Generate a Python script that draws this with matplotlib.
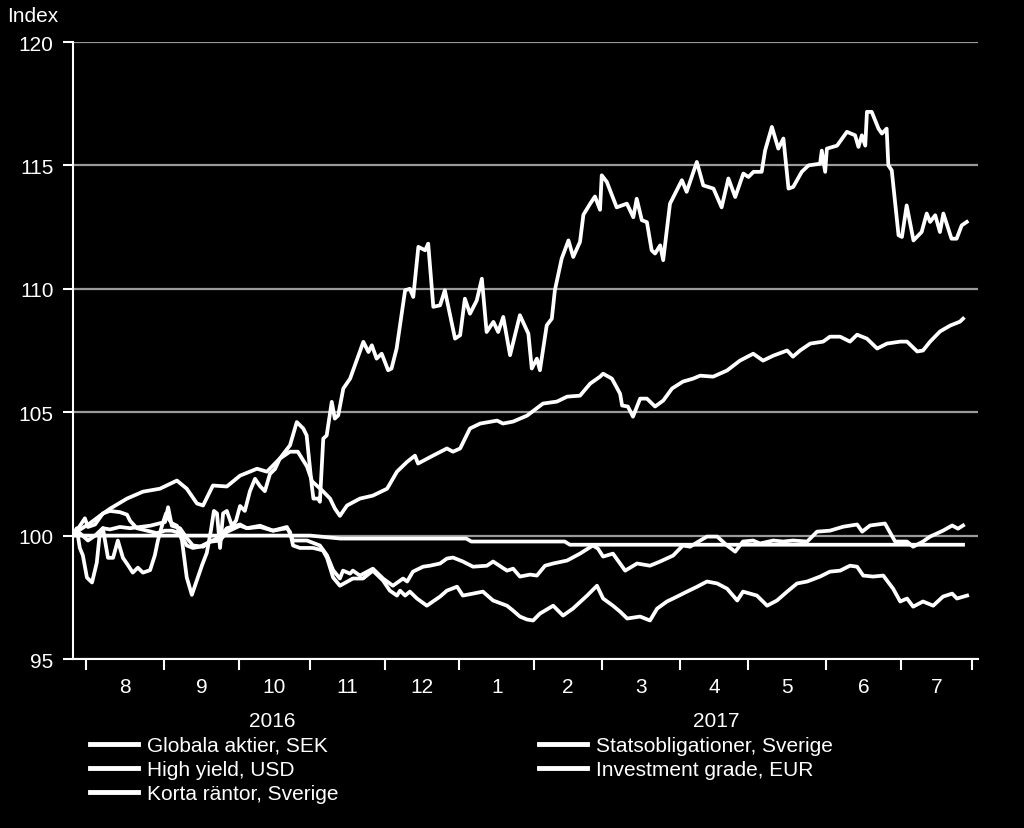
import matplotlib
matplotlib.use('Agg')
import matplotlib.pyplot as plt

plt.rcParams['font.family'] = ['Liberation Sans', 'DejaVu Sans']

# x = trading days counted from 1 Aug 2016, y = index (start = 100)
globala_x = [-3.8, -2.7, -1.8, -0.9, 0.3, 1.8, 3.2, 4.1, 5.0, 6.5, 8.0, 9.4, 10.9, 12.4, 13.8,
             15.3, 16.8, 18.9, 20.3, 21.2, 22.4, 23.6, 24.2, 25.3, 26.8, 28.3, 29.7, 31.2, 32.7,
             34.2, 35.6, 36.8, 37.7, 38.6, 39.5, 40.4, 41.5, 43.0, 44.2, 45.4, 46.8, 48.3, 49.8,
             51.3, 52.7, 54.2, 55.7, 57.1, 60.1, 62.1, 64.0, 65.0, 66.5, 67.0, 68.4, 68.9, 69.9,
             70.9, 72.4, 73.3, 74.3, 75.8, 77.8, 81.7, 83.2, 84.2, 85.6, 87.1, 89.0, 90.0, 91.5,
             94.0, 95.4, 96.4, 97.9, 99.9, 100.8, 102.3, 104.3, 105.7, 108.7, 110.2, 111.6, 113.1,
             115.1, 116.6, 118.0, 120.0, 121.4, 122.9, 124.9, 127.8, 130.3, 131.3, 132.8, 133.7,
             135.7, 137.2, 138.1, 140.1, 142.1, 143.5, 145.5, 146.5, 148.5, 149.9, 151.4, 151.9,
             153.4, 156.3, 159.3, 161.2, 162.2, 163.7, 165.2, 166.6, 167.6, 169.1, 170.0, 172.0,
             173.5, 175.5, 176.9, 179.9, 181.8, 184.8, 187.2, 189.2, 191.2, 193.6, 195.1, 196.6,
             199.0, 200.0, 202.0, 203.9, 205.4, 206.9, 208.3, 210.8, 212.8, 216.2, 216.7, 217.7,
             218.2, 221.2, 224.1, 226.5, 227.5, 228.5, 229.5, 230.0, 231.4, 233.4, 234.4, 235.8,
             236.3, 237.3, 239.3, 240.3, 241.7, 243.7, 246.1, 247.6, 248.6, 250.1, 251.5, 252.5,
             254.9, 256.4, 257.9, 259.4]
globala_y = [100.0, 100.3, 99.5, 99.2, 98.3, 98.1, 98.9, 100.1, 100.3, 99.1, 99.1, 99.8, 99.1, 98.8,
             98.5, 98.7, 98.5, 98.6, 99.2, 99.8, 100.4, 100.9, 100.7, 100.5, 100.4, 99.8, 98.3,
             97.6, 98.2, 98.8, 99.3, 100.2, 101.0, 100.9, 99.5, 100.9, 101.0, 100.4, 100.6, 101.2,
             101.0, 101.8, 102.3, 102.0, 101.8, 102.5, 102.7, 103.12, 103.66, 104.6, 104.34,
             104.06, 102.04, 101.5, 101.5, 101.37, 103.93, 104.06, 105.42, 104.74, 104.87, 105.96,
             106.36, 107.85, 107.44, 107.71, 107.17, 107.37, 106.7, 106.77, 107.58, 109.94, 110.0,
             109.67, 111.7, 111.56, 111.83, 109.27, 109.33, 109.94, 107.98, 108.12, 109.6, 108.99,
             109.53, 110.41, 108.25, 108.66, 108.25, 108.86, 107.31, 108.93, 108.18, 106.77,
             107.17, 106.7, 108.52, 108.79, 109.94, 111.22, 111.96, 111.29, 111.9, 113.0, 113.45,
             113.74, 113.2, 114.6, 114.33, 113.3, 113.45, 112.9, 113.65, 112.78, 112.7, 111.56,
             111.43, 111.76, 111.16, 113.45, 113.86, 114.4, 113.93, 115.14, 114.19, 114.06, 113.3,
             114.47, 113.72, 114.67, 114.53, 114.74, 114.74, 115.6, 116.56, 115.68, 116.09, 114.06,
             114.13, 114.74, 115.0, 115.07, 115.6, 114.74, 115.68, 115.8, 116.36, 116.22, 115.75,
             116.22, 115.8, 117.17, 117.17, 116.49, 116.29, 116.49, 115.0, 114.8, 112.17, 112.1,
             113.38, 111.96, 112.3, 113.05, 112.71, 112.98, 112.3, 113.05, 112.03, 112.03, 112.57,
             112.71]

highyield_x = [-3.8, -2.7, 1.2, 4.1, 7.1, 12.1, 16.8, 21.8, 26.8, 29.7, 32.7, 34.5, 37.4, 41.5,
               45.4, 50.4, 53.3, 57.1, 60.1, 62.4, 65.1, 66.6, 69.8, 71.9, 73.3, 74.8, 76.9, 80.7,
               84.5, 88.7, 91.6, 94.6, 96.9, 97.8, 102.2, 106.3, 108.1, 110.2, 113.1, 116.1, 121.1,
               122.8, 125.8, 129.9, 134.6, 138.7, 141.7, 145.5, 148.5, 151.4, 152.3, 154.9, 157.3,
               157.9, 159.6, 161.1, 163.2, 165.2, 167.6, 170.0, 172.6, 175.8, 178.8, 180.9, 184.7,
               188.8, 192.6, 196.5, 199.4, 202.4, 206.5, 208.2, 210.3, 213.3, 217.1, 219.1, 222.1,
               225.0, 227.1, 230.0, 233.0, 235.9, 239.8, 241.8, 244.8, 246.5, 248.6, 251.5, 254.5,
               257.4, 258.3]
highyield_y = [100.0, 100.16, 100.5, 100.8, 101.09, 101.5, 101.78, 101.9, 102.23, 101.9, 101.3,
               101.22, 102.03, 101.99, 102.43, 102.71, 102.59, 103.12, 103.4, 103.4, 102.8, 102.2,
               101.8, 101.5, 101.1, 100.8, 101.22, 101.5, 101.62, 101.9, 102.59, 102.99, 103.24,
               102.92, 103.24, 103.53, 103.4, 103.53, 104.34, 104.54, 104.66, 104.54, 104.62,
               104.86, 105.35, 105.43, 105.63, 105.67, 106.16, 106.44, 106.56, 106.36, 105.75,
               105.27, 105.23, 104.82, 105.55, 105.55, 105.23, 105.47, 105.96, 106.24, 106.36,
               106.48, 106.44, 106.69, 107.09, 107.37, 107.09, 107.29, 107.5, 107.25, 107.5,
               107.78, 107.86, 108.06, 108.06, 107.86, 108.14, 107.98, 107.58, 107.78, 107.86,
               107.86, 107.46, 107.5, 107.86, 108.27, 108.51, 108.67, 108.79]

korta_x = [-3.8, 66.0, 75.0, 112.0, 113.5, 141.0, 142.5, 258.3]
korta_y = [100.0, 100.0, 99.88, 99.88, 99.76, 99.76, 99.63, 99.63]

stats_x = [-3.8, -2.7, -0.3, 0.6, 2.7, 5.0, 7.1, 10.0, 12.1, 13.0, 15.0, 18.0, 20.9, 23.3, 25.3,
           27.7, 29.7, 31.5, 33.6, 36.5, 39.5, 41.5, 45.4, 47.4, 51.3, 55.1, 59.2, 60.1, 61.0,
           63.0, 66.9, 69.8, 71.0, 72.8, 74.8, 78.6, 81.6, 84.5, 87.5, 89.5, 91.6, 92.5, 94.0,
           95.4, 97.5, 100.4, 104.3, 106.3, 109.3, 111.0, 114.0, 116.9, 119.9, 124.0, 125.8,
           127.8, 129.9, 131.7, 133.7, 137.6, 140.5, 143.4, 147.6, 150.5, 152.3, 155.2, 157.3,
           159.4, 163.2, 166.1, 168.2, 171.1, 174.1, 177.0, 180.0, 182.9, 185.9, 188.8, 191.8,
           193.5, 197.6, 200.6, 203.5, 206.5, 209.4, 212.4, 216.2, 219.1, 222.1, 225.0, 227.1,
           228.9, 231.8, 234.8, 237.7, 239.8, 241.8, 243.6, 246.5, 249.5, 252.4, 255.1, 256.5,
           259.5]
stats_y = [100.0, 100.2, 100.7, 100.35, 100.45, 100.9, 101.0, 100.95, 100.85, 100.6, 100.3, 100.2,
           100.1, 100.2, 100.2, 100.1, 99.6, 99.5, 99.55, 99.75, 99.8, 100.15, 100.4, 100.3,
           100.35, 100.2, 100.3, 100.15, 99.6, 99.5, 99.5, 99.4, 99.1, 98.3, 97.97, 98.26, 98.26,
           98.58, 98.18, 97.77, 97.57, 97.77, 97.57, 97.73, 97.45, 97.16, 97.53, 97.77, 97.93,
           97.57, 97.65, 97.73, 97.37, 97.16, 96.96, 96.72, 96.6, 96.56, 96.84, 97.16, 96.76,
           97.04, 97.57, 97.97, 97.45, 97.16, 96.92, 96.64, 96.72, 96.56, 97.04, 97.33, 97.53,
           97.73, 97.93, 98.14, 98.06, 97.85, 97.37, 97.73, 97.57, 97.16, 97.37, 97.73, 98.06,
           98.14, 98.34, 98.54, 98.58, 98.78, 98.74, 98.38, 98.34, 98.38, 97.85, 97.33, 97.45,
           97.12, 97.33, 97.16, 97.53, 97.65, 97.45, 97.57]

ig_x = [-3.8, -1.8, 0.6, 2.7, 5.0, 7.1, 10.0, 13.0, 15.9, 18.9, 21.8, 23.3, 24.2, 25.3, 27.7,
        29.7, 31.5, 34.5, 36.5, 39.5, 41.5, 45.4, 47.4, 51.3, 55.1, 59.2, 61.0, 65.1, 68.9, 71.0,
        72.8, 74.8, 75.7, 77.8, 78.6, 80.7, 84.5, 87.5, 90.4, 93.4, 94.6, 96.3, 99.3, 101.3,
        104.3, 106.3, 108.1, 111.0, 114.0, 118.1, 119.9, 124.0, 125.8, 127.8, 130.8, 132.8,
        135.2, 137.6, 141.7, 145.5, 149.3, 150.8, 152.3, 155.2, 158.8, 162.3, 166.1, 169.1,
        172.9, 175.8, 177.9, 180.9, 182.9, 185.9, 188.8, 191.2, 193.5, 196.5, 198.5, 202.4,
        205.3, 208.2, 212.4, 215.3, 219.1, 223.0, 227.1, 228.6, 230.9, 235.3, 238.3, 241.8,
        243.6, 246.5, 248.6, 252.4, 255.1, 256.8, 258.3]
ig_y = [100.0, 100.1, 99.8, 100.0, 100.3, 100.25, 100.35, 100.3, 100.35, 100.4, 100.5, 100.55,
        101.15, 100.4, 100.3, 99.9, 99.6, 99.55, 99.75, 99.95, 100.3, 100.45, 100.3, 100.4, 100.2,
        100.35, 99.8, 99.8, 99.6, 99.2, 98.6, 98.26, 98.58, 98.46, 98.58, 98.38, 98.66, 98.26,
        97.97, 98.26, 98.14, 98.54, 98.74, 98.78, 98.87, 99.07, 99.11, 98.95, 98.74, 98.78,
        98.95, 98.58, 98.66, 98.34, 98.42, 98.38, 98.78, 98.87, 98.99, 99.27, 99.6, 99.47,
        99.15, 99.27, 98.58, 98.87, 98.78, 98.95, 99.19, 99.6, 99.55, 99.8, 99.96, 99.96, 99.6,
        99.35, 99.76, 99.8, 99.68, 99.8, 99.76, 99.8, 99.76, 100.16, 100.2, 100.36, 100.45,
        100.16, 100.41, 100.49, 99.76, 99.76, 99.55, 99.76, 99.96, 100.2, 100.41, 100.28, 100.41]

# month boundaries (trading days) and labels
month_edges = [0, 23, 45, 66, 88, 110, 132, 152, 175, 195, 218, 240, 261]
month_labels = ['8', '9', '10', '11', '12', '1', '2', '3', '4', '5', '6', '7']
years = ['2016', '2017']
year_spans = [(0, 110), (110, 261)]

fig = plt.figure(figsize=(10.24, 8.29), dpi=100, facecolor='black')
ax = fig.add_axes([73 / 1024, 1 - 660 / 829, 905 / 1024, 617 / 829])
ax.set_facecolor('black')

lw = 2.7
ax.plot(globala_x, globala_y, color='white', lw=lw, label='Globala aktier, SEK')
ax.plot(highyield_x, highyield_y, color='white', lw=lw, label='High yield, USD')
ax.plot(korta_x, korta_y, color='white', lw=lw, label='Korta räntor, Sverige')
ax.plot(stats_x, stats_y, color='white', lw=lw, label='Statsobligationer, Sverige')
ax.plot(ig_x, ig_y, color='white', lw=lw, label='Investment grade, EUR')

ax.set_xlim(-3.8, 262.7)
ax.set_ylim(95, 120)
ax.set_yticks([95, 100, 105, 110, 115, 120])
ax.yaxis.grid(True, color='#9a9a9a', lw=1.6)
ax.set_axisbelow(True)

for s in ['top', 'right']:
    ax.spines[s].set_visible(False)
for s in ['left', 'bottom']:
    ax.spines[s].set_color('white')
    ax.spines[s].set_linewidth(1.5)

ax.tick_params(axis='y', colors='white', labelsize=15, length=7, width=1.5, pad=7)
ax.set_xticks(month_edges)
ax.set_xticklabels([])
ax.set_xticks([(a + b) / 2 for a, b in zip(month_edges[:-1], month_edges[1:])], minor=True)
ax.set_xticklabels(month_labels, minor=True)
ax.tick_params(axis='x', which='major', colors='white', length=8, width=1.5)
ax.tick_params(axis='x', which='minor', colors='white', length=0, labelsize=15, pad=13)

for yr, (a, b) in zip(years, year_spans):
    ax.text((a + b) / 2, -0.1, yr, transform=ax.get_xaxis_transform(),
            ha='center', va='center', color='white', fontsize=15)

fig.text(7 / 1024, 1 - 17 / 829, 'Index', color='white', fontsize=15, ha='left', va='center')

handles, labels = ax.get_legend_handles_labels()
leg_kw = dict(frameon=False, fontsize=15, labelcolor='white', handlelength=2.3,
              handletextpad=0.45, labelspacing=0.25, borderpad=0, borderaxespad=0,
              loc='upper left')
leg1 = fig.legend(handles[:3], labels[:3], bbox_to_anchor=(90 / 1024, 1 - 737 / 829), **leg_kw)
leg2 = fig.legend(handles[3:], labels[3:], bbox_to_anchor=(539 / 1024, 1 - 737 / 829), **leg_kw)
for leg in (leg1, leg2):
    for h in leg.get_lines():
        h.set_linewidth(3.5)

fig.savefig('out.png', dpi=100, facecolor='black')
